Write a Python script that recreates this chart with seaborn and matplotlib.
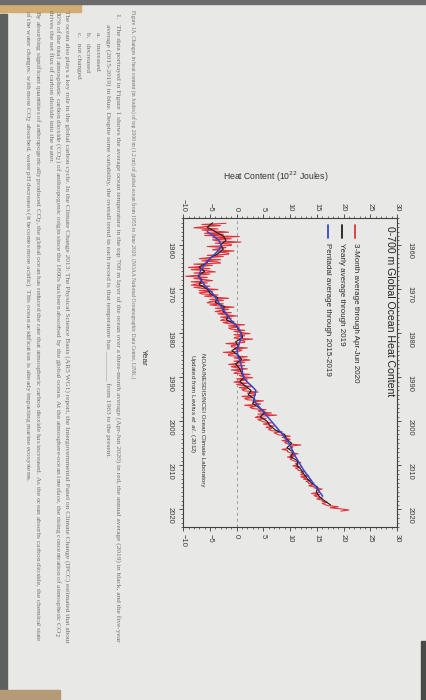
import numpy as np
import pandas as pd
import matplotlib.pyplot as plt
import seaborn as sns
from matplotlib.ticker import MultipleLocator
from matplotlib.patches import Rectangle

# ---- data (10^22 Joules) ----
anios = list(range(1955, 2020))
anual = [-4.5, -5.5, -4.0, -2.5, -2.0, -3.0, -2.5, -3.5, -5.0, -5.5,
         -7.0, -6.0, -7.2, -6.5, -7.0, -5.5, -5.0, -3.5, -4.0, -2.3,
         -2.6, -1.6, -1.9, -0.2, 0.2, 0.9, 1.1, -0.2, 0.4, -0.9,
         0.3, 0.9, -0.2, 0.5, 0.9, 1.4, 0.6, 1.6, 2.7, 2.2,
         3.4, 3.0, 4.3, 5.3, 4.4, 5.7, 6.2, 7.3, 9.0, 9.3,
         10.3, 9.4, 10.6, 10.1, 11.4, 11.3, 12.1, 12.6, 13.2, 14.0,
         15.2, 14.9, 15.4, 16.4, 17.6]

anios_pent = list(range(1957, 2018))
pentadal = [-5.5, -4.3, -3.3, -2.9, -3.2, -4.0, -4.9, -5.7, -6.3, -6.8,
            -7.0, -6.7, -6.1, -5.3, -4.5, -3.9, -3.4, -2.9, -2.3, -1.8,
            -1.1, -0.3, 0.4, 0.8, 0.9, 0.6, 0.3, 0.1, 0.2, 0.5,
            0.8, 1.0, 1.1, 1.3, 1.9, 2.8, 3.6, 3.4, 3.2, 3.7,
            4.4, 5.1, 5.8, 6.5, 7.2, 7.9, 8.6, 9.2, 9.8, 10.2,
            10.6, 11.0, 11.5, 12.0, 12.5, 13.1, 13.7, 14.3, 14.9, 15.5,
            16.1]

# 3-month averages, Jan-Mar 1955 ... Apr-Jun 2020
trimestral = [
    -2.0, -6.5, -3.0, -6.0,   # 1955
    -8.0, -3.5, -6.5, -4.0,
    -1.5, -6.0, -2.5, -6.0,
    0.5, -4.5, -1.0, -4.5,
    -3.5, 0.8, -4.0, -1.0,
    -1.0, -5.5, -2.0, -3.5,   # 1960
    -4.5, -0.5, -3.5, -1.5,
    -1.5, -5.5, -2.5, -5.0,
    -7.0, -3.0, -6.5, -3.5,
    -3.0, -8.0, -4.5, -6.5,
    -9.0, -5.0, -8.5, -5.5,   # 1965
    -4.0, -8.0, -5.0, -7.0,
    -9.5, -5.5, -8.0, -6.0,
    -4.5, -8.5, -5.5, -7.5,
    -8.5, -5.0, -8.0, -6.5,
    -3.5, -7.0, -4.5, -7.0,   # 1970
    -6.5, -3.5, -6.0, -4.0,
    -1.5, -5.0, -2.5, -5.0,
    -5.5, -2.5, -5.0, -3.0,
    -0.5, -4.0, -1.5, -3.0,
    -4.0, -1.0, -3.5, -2.0,   # 1975
    0.0, -3.0, -1.0, -2.5,
    -3.0, -0.5, -2.5, -1.5,
    1.5, -1.5, 0.5, -1.5,
    -1.0, 1.5, -0.5, 0.8,
    2.5, -0.5, 1.5, 0.0,      # 1980
    -0.5, 3.0, 0.5, 1.5,
    1.5, -2.0, 0.5, -1.0,
    -1.0, 2.0, -0.5, 1.0,
    0.5, -2.5, 0.0, -1.5,
    -1.5, 2.0, -0.5, 1.0,     # 1985
    2.5, -0.5, 1.5, 0.0,
    -1.5, 1.5, -1.0, 0.0,
    2.0, -1.0, 1.0, 0.0,
    -0.5, 2.5, 0.5, 1.0,
    3.0, 0.0, 2.0, 0.5,       # 1990
    -0.5, 2.0, 0.0, 1.0,
    3.0, 0.5, 2.0, 1.0,
    1.5, 4.0, 2.0, 3.5,
    3.5, 1.0, 3.0, 1.5,
    2.0, 5.0, 3.0, 3.5,       # 1995
    4.5, 1.5, 3.5, 2.5,
    3.0, 5.5, 4.0, 4.5,
    6.5, 4.0, 7.5, 4.0,
    3.5, 5.5, 4.0, 4.5,
    5.0, 6.5, 5.0, 6.0,       # 2000
    7.0, 5.5, 6.5, 6.0,
    6.5, 8.5, 7.0, 7.5,
    8.0, 10.0, 8.5, 9.5,
    10.0, 8.5, 9.5, 9.0,
    9.5, 12.0, 10.0, 10.5,    # 2005
    10.0, 8.5, 9.5, 9.5,
    10.0, 11.5, 10.0, 11.0,
    9.5, 10.5, 10.0, 10.5,
    11.0, 12.0, 11.0, 11.5,
    10.5, 12.0, 11.0, 11.5,   # 2010
    11.5, 12.5, 12.0, 12.5,
    12.0, 13.5, 12.0, 13.0,
    12.5, 14.0, 13.0, 13.5,
    13.5, 14.5, 13.5, 14.5,
    14.5, 16.0, 15.0, 15.5,   # 2015
    15.5, 14.0, 15.5, 14.5,
    15.0, 16.0, 15.0, 16.0,
    16.0, 17.0, 16.0, 16.5,
    17.0, 19.0, 17.5, 19.5,
    21.0, 19.5,               # 2020
]
t_trim = 1955.125 + 0.25 * np.arange(len(trimestral))

ticks_calor = [-10, -5, 0, 5, 10, 15, 20, 25, 30]
ticks_anio = [1960, 1970, 1980, 1990, 2000, 2010, 2020]

sns.set_style('ticks')
plt.rcParams['font.family'] = ['Liberation Sans', 'DejaVu Sans']

papel = '#e8e9e7'
tinta = '#3a3a3a'
fig = plt.figure(figsize=(4.26, 7.0), dpi=100, facecolor=papel)

# photo edges
fig.patches.append(Rectangle((0, 0.983), 0.19, 0.017, transform=fig.transFigure, color='#d2ad72', zorder=0))
fig.patches.append(Rectangle((0, 0.995), 1, 0.005, transform=fig.transFigure, color='#6b6b6b', zorder=0))
fig.patches.append(Rectangle((0, 0.015), 0.016, 0.965, transform=fig.transFigure, color='#5e5f5f', zorder=0))
fig.patches.append(Rectangle((0, 0), 0.14, 0.015, transform=fig.transFigure, color='#b59a76', zorder=0))
fig.patches.append(Rectangle((0.988, 0), 0.012, 0.085, transform=fig.transFigure, color='#4a4a4a', zorder=0))

# ---- chart (page is rotated: heat runs left->right, years top->bottom) ----
ax = fig.add_axes([0.43, 0.247, 0.502, 0.441])
ax.set_facecolor('none')

ax.axvline(0, color='#9a9a9a', lw=0.7, ls=(0, (3, 3)), zorder=1)
sns.lineplot(x=trimestral, y=t_trim, sort=False, estimator=None, color='#e0333b', lw=0.8, ax=ax, zorder=2)
sns.lineplot(x=anual, y=anios, sort=False, estimator=None, color='#1e1e1e', lw=0.8, ax=ax, zorder=3)
sns.lineplot(x=pentadal, y=anios_pent, sort=False, estimator=None, color='#3a45c8', lw=1.1, ax=ax, zorder=4)

ax.set_xlim(-10, 30)
ax.set_ylim(2024, 1954)
ax.set_xticks(ticks_calor)
ax.set_yticks(ticks_anio)
ax.xaxis.set_minor_locator(MultipleLocator(1))
ax.yaxis.set_minor_locator(MultipleLocator(1))
ax.tick_params(axis='x', which='both', top=True, bottom=True, labeltop=True, labelbottom=True,
               labelrotation=-90, direction='out', colors=tinta, labelsize=5.5, pad=2)
ax.tick_params(axis='y', which='both', left=True, right=True, labelleft=True, labelright=True,
               labelrotation=-90, direction='out', colors=tinta, labelsize=5.5, pad=4)
ax.tick_params(which='major', length=3, width=0.6)
ax.tick_params(which='minor', length=1.5, width=0.5)
ax.set_xlabel('')
ax.set_ylabel('')
for s in ax.spines.values():
    s.set_visible(True)
    s.set_color('#404040')
    s.set_linewidth(0.8)

ax.text(0.967, 0.977, '0-700 m Global Ocean Heat Content', transform=ax.transAxes,
        rotation=-90, ha='center', va='top', fontsize=7.6, color='#222222')

leyenda = [('#e0333b', '3-Month average through Apr-Jun 2020', 0.804),
           ('#1e1e1e', 'Yearly average through 2019', 0.741),
           ('#3a45c8', 'Pentadal average through 2015-2019', 0.676)]
for col, txt, xx in leyenda:
    ax.plot([xx, xx], [0.978, 0.935], transform=ax.transAxes, color=col, lw=1.3)
    ax.text(xx, 0.92, txt, transform=ax.transAxes, rotation=-90, ha='center', va='top',
            fontsize=5.8, color='#2a2a2a')

ax.text(0.09, 0.565, 'NOAA/NESDIS/NCEI Ocean Climate Laboratory', transform=ax.transAxes,
        rotation=-90, ha='center', va='top', fontsize=4.5, color='#333333')
ax.text(0.045, 0.56, 'Updated from Levitus $et\\ al.$ (2012)', transform=ax.transAxes,
        rotation=-90, ha='center', va='top', fontsize=4.5, color='#333333')

fig.text(0.648, 0.747, 'Heat Content (10$^{22}$ Joules)', ha='center', va='center',
         fontsize=6.2, color='#333333')
fig.text(0.336, 0.489, 'Year', rotation=-90, ha='center', va='center', fontsize=6, color='#333333')

# ---- page text (rotated with the page) ----
gris = '#707070'
serif = ['Liberation Serif', 'DejaVu Serif']
lineas = [
    (133, 10, 4.0, 'Figure 1A. Changes in heat content (in Joules) of top 2000 m (1.2 mi) of global ocean '
                   'from 1955 to June 2020. (NOAA National Oceanographic Data Center, LINK.)'),
    (118, 13, 5.3, '1.   The data portrayed in Figure 1 shows the average ocean temperature in the top 700 m layer '
                   'of the ocean over a three-month average (Apr-Jun 2020) in red, the annual average (2019) '
                   'in black, and the five-year'),
    (108, 24, 5.3, 'average (2015-2019) in blue. Despite some variability, the overall trend in each record is '
                   'that temperature has ________ from 1963 to the present.'),
    (98, 32, 5.3, 'a.   increased'),
    (88, 32, 5.3, 'b.   decreased'),
    (78, 32, 5.3, 'c.   not changed'),
    (67, 10, 5.3, 'The ocean also plays a key role in the global carbon cycle. In the Climate Change 2013: '
                  'The Physical Science Basis (AR5 WG1) report, the Intergovernmental Panel on Climate Change '
                  '(IPCC) estimated that about'),
    (58, 10, 5.3, '30% of the total atmospheric carbon dioxide (CO$_2$) of anthropogenic origin since the 1800s '
                  'has been absorbed by the global ocean. At the atmosphere-ocean interface, the rising '
                  'concentration of atmospheric CO$_2$'),
    (50, 10, 5.3, 'drives the net flux of carbon dioxide into the water.'),
    (37, 10, 5.3, 'By absorbing significant quantities of anthropogenically produced CO$_2$, the global ocean '
                  'has reduced the rate that atmospheric carbon dioxide has increased. As the ocean absorbs '
                  'carbon dioxide, the chemical state'),
    (28, 10, 5.3, 'of the water changes: with more CO$_2$ absorbed, water pH decreases (it becomes more acidic). '
                  'This ocean acidification is already impacting marine ecosystems.'),
]
for px, py, fs, txt in lineas:
    fig.text(px / 426, 1 - py / 700, txt, rotation=-90, ha='center', va='top',
             fontsize=fs, color=gris, family=serif)

fig.savefig('out.png', dpi=100, facecolor=papel)
